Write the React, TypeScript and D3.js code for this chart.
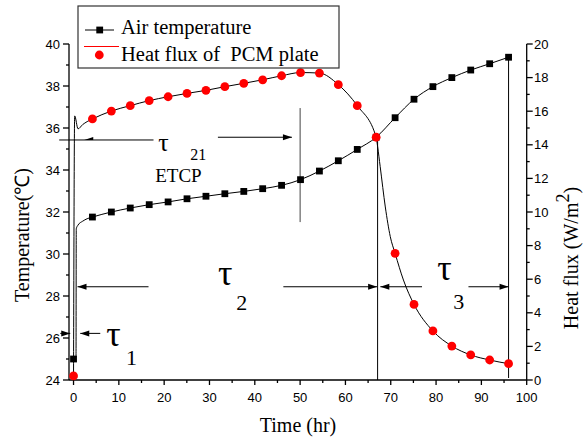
import React from 'react';
import * as d3 from 'd3';

// ---- data ----
const times = [0, 4.17, 8.35, 12.52, 16.7, 20.87, 25.04, 29.22, 33.39, 37.57, 41.74, 45.91, 50.09, 54.26, 58.43, 62.61, 66.78, 70.96, 75.13, 79.3, 83.48, 87.65, 91.83, 96];
const airTemp = [25.0, 31.76, 32.0, 32.19, 32.35, 32.48, 32.63, 32.75, 32.87, 32.98, 33.11, 33.27, 33.54, 33.95, 34.44, 34.98, 35.56, 36.49, 37.37, 37.97, 38.4, 38.76, 39.06, 39.37];
const heatFlux = [0.24, 15.54, 16.01, 16.33, 16.63, 16.86, 17.06, 17.24, 17.46, 17.66, 17.87, 18.11, 18.3, 18.27, 17.58, 16.33, 14.45, 7.54, 4.5, 2.92, 2.02, 1.49, 1.19, 0.97];

// extra points of the continuous recorded curves (between markers)
const airExtraTimes = [0.55, 0.6, 1, 2, 3];
const airExtraValues = [25.1, 31.2, 31.38, 31.56, 31.68];
const fluxExtraTimes = [0.25, 1, 2, 3, 67.1, 67.67, 68.8, 69.9, 72.8];
const fluxExtraValues = [15.72, 14.95, 15.2, 15.38, 13.9, 12.7, 10.3, 8.53, 5.95];

const xTicks = [0, 10, 20, 30, 40, 50, 60, 70, 80, 90, 100];
const leftTicks = [24, 26, 28, 30, 32, 34, 36, 38, 40];
const rightTicks = [0, 2, 4, 6, 8, 10, 12, 14, 16, 18, 20];

const serif = '"Liberation Serif", "Times New Roman", serif';
const sans = '"Liberation Sans", Arial, sans-serif';

function merge(t1: number[], v1: number[], t2: number[], v2: number[]): [number, number][] {
  const pts: [number, number][] = [];
  t1.forEach((t, i) => pts.push([t, v1[i]]));
  t2.forEach((t, i) => pts.push([t, v2[i]]));
  return pts.sort((a, b) => a[0] - b[0]);
}

export default function App() {
  const W = 583, H = 439;
  const x = d3.scaleLinear().domain([-1, 100]).range([69, 526.7]);
  const yL = d3.scaleLinear().domain([24, 40]).range([380, 44]);
  const yR = d3.scaleLinear().domain([0, 20]).range([380, 44]);
  const bottom = 380, left = 69, right = 526.7, top = 44;

  const line = d3.line<[number, number]>().curve(d3.curveMonotoneX);
  const airPts = merge(times, airTemp, airExtraTimes, airExtraValues).map(([t, v]) => [x(t), yL(v)] as [number, number]);
  const fluxPts = merge(times, heatFlux, fluxExtraTimes, fluxExtraValues).map(([t, v]) => [x(t), yR(v)] as [number, number]);

  const arrow = (x1: number, y1: number, x2: number, y2: number, key: string) => {
    const dir = Math.sign(x2 - x1) || 1;
    const L = 9, hw = 3;
    return (
      <g key={key}>
        <line x1={x1} y1={y1} x2={x2} y2={y2} stroke="#000" strokeWidth={1} />
        <path d={`M${x2},${y2} L${x2 - dir * L},${y2 - hw} L${x2 - dir * L},${y2 + hw} Z`} fill="#000" />
      </g>
    );
  };

  const minor = (a: number[]) => a.slice(0, -1).map((v, i) => (v + a[i + 1]) / 2);

  return (
    <svg width={W} height={H} style={{ position: 'absolute', left: 0, top: 0, background: '#fff' }}>
      <rect width={W} height={H} fill="#fff" />
      {/* axes */}
      <g stroke="#000" strokeWidth={1.3}>
        <line x1={left} y1={bottom} x2={right} y2={bottom} />
        <line x1={left} y1={bottom} x2={left} y2={top} />
        <line x1={right} y1={bottom} x2={right} y2={top} />
        {xTicks.map(t => <line key={'xt' + t} x1={x(t)} x2={x(t)} y1={bottom} y2={bottom + 5} />)}
        {minor(xTicks).map(t => <line key={'xm' + t} x1={x(t)} x2={x(t)} y1={bottom} y2={bottom + 3} />)}
        {leftTicks.map(v => <line key={'lt' + v} x1={left - 6} x2={left} y1={yL(v)} y2={yL(v)} />)}
        {minor(leftTicks).map(v => <line key={'lm' + v} x1={left - 3} x2={left} y1={yL(v)} y2={yL(v)} />)}
        {rightTicks.map(v => <line key={'rt' + v} x1={right} x2={right + 6} y1={yR(v)} y2={yR(v)} />)}
        {minor(rightTicks).map(v => <line key={'rm' + v} x1={right} x2={right + 3} y1={yR(v)} y2={yR(v)} />)}
      </g>
      <g fontFamily={sans} fontSize={13} fill="#000">
        {xTicks.map(t => <text key={'xl' + t} x={x(t)} y={397} textAnchor="middle" dominantBaseline="central">{t}</text>)}
        {leftTicks.map(v => <text key={'ll' + v} x={60} y={yL(v)} textAnchor="end" dominantBaseline="central">{v}</text>)}
        {rightTicks.map(v => <text key={'rl' + v} x={534} y={yR(v)} textAnchor="start" dominantBaseline="central">{v}</text>)}
      </g>
      {/* axis titles */}
      <g fontFamily={serif} fontSize={20} fill="#000">
        <text x={298} y={425} textAnchor="middle" dominantBaseline="central">Time (hr)</text>
        <text transform="translate(22,235) rotate(-90)" textAnchor="middle" dominantBaseline="central">Temperature(℃)</text>
        <text transform="translate(571,258) rotate(-90)" textAnchor="middle" dominantBaseline="central">
          Heat flux (W/m<tspan dy={-8} fontSize={18}>2</tspan><tspan dy={8}>)</tspan>
        </text>
      </g>

      {/* annotation lines */}
      <g stroke="#000" strokeWidth={1}>
        <line x1={x(67.1)} x2={x(67.1)} y1={yR(14.45)} y2={bottom} />
        <line x1={x(96)} x2={x(96)} y1={yL(39.37)} y2={bottom - 2} />
        <line x1={x(50)} x2={x(50)} y1={yL(36.95)} y2={yL(31.52)} stroke="#444" />
        <line x1={x(-3.16)} x2={x(17.65)} y1={yL(35.43)} y2={yL(35.43)} />
      </g>
      <path d={`M${x(2.36)},${yL(35.43)} l9,-3 l0,3 Z`} fill="#000" />
      {arrow(x(31.86), yL(35.56), x(48.19), yL(35.56), 'a21')}
      {arrow(x(16.55), yL(28.44), x(0.88), yL(28.44), 'a2l')}
      {arrow(x(46.3), yL(28.44), x(67.0), yL(28.44), 'a2r')}
      {arrow(x(76.9), yL(28.44), x(67.7), yL(28.44), 'a3l')}
      {arrow(x(87.15), yL(28.44), x(96), yL(28.44), 'a3r')}
      {arrow(x(-2.93), yL(26.22), x(-0.73), yL(26.22), 'a1r')}
      {arrow(x(5.9), yL(26.22), x(1.48), yL(26.22), 'a1l')}

      {/* annotation text */}
      <g fontFamily={serif} fill="#000">
        <text x={x(18.69)} y={yL(34.9)} fontSize={26}>τ</text>
        <text x={x(25.75)} y={yL(34.48)} fontSize={16}>21</text>
        <text x={x(18.03)} y={yL(33.45)} fontSize={19}>ETCP</text>
        <text x={x(31.9)} y={yL(28.52)} fontSize={36}>τ</text>
        <text x={x(35.9)} y={yL(27.33)} fontSize={22}>2</text>
        <text x={x(80.25)} y={yL(28.76)} fontSize={36}>τ</text>
        <text x={x(83.8)} y={yL(27.38)} fontSize={22}>3</text>
        <text x={x(7.2)} y={yL(25.62)} fontSize={36}>τ</text>
        <text x={x(11.6)} y={yL(24.71)} fontSize={22}>1</text>
      </g>

      {/* data lines */}
      <path d={line(airPts) || ''} fill="none" stroke="#000" strokeWidth={1} />
      <path d={line(fluxPts) || ''} fill="none" stroke="#000" strokeWidth={1} />
      {times.map((t, i) => (
        <rect key={'sq' + i} x={x(t) - 3.4} y={yL(airTemp[i]) - 3.4} width={6.8} height={6.8} fill="#000" />
      ))}
      {times.map((t, i) => (
        <circle key={'c' + i} cx={x(t)} cy={yR(heatFlux[i])} r={4.4} fill="#ff0000" />
      ))}

      {/* legend */}
      <g>
        <rect x={78} y={6} width={261} height={62} fill="#fff" stroke="#333" strokeWidth={1.2} />
        <line x1={85} x2={114} y1={30} y2={30} stroke="#000" strokeWidth={1} />
        <rect x={99.7 - 3.4} y={30 - 3.4} width={6.8} height={6.8} fill="#000" />
        <line x1={84} x2={119} y1={46.5} y2={46.5} stroke="#ff0000" strokeWidth={1.2} />
        <circle cx={99.3} cy={55} r={4.4} fill="#ff0000" />
        <text x={121} y={34} fontFamily={serif} fontSize={20.5} fill="#000">Air temperature</text>
        <text x={121} y={61} fontFamily={serif} fontSize={20.5} fill="#000" style={{ whiteSpace: 'pre' }}>{'Heat flux of  PCM plate'}</text>
      </g>
    </svg>
  );
}
